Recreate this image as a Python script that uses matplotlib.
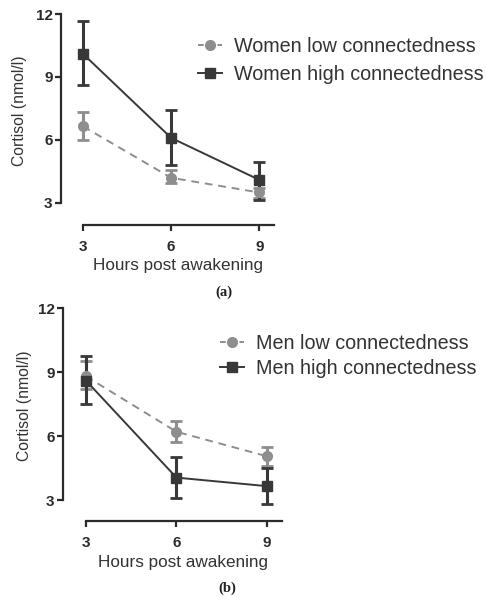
import matplotlib
matplotlib.use('Agg')
import matplotlib.pyplot as plt
from matplotlib.lines import Line2D
import numpy as np

plt.rcParams['font.family'] = ['Liberation Sans', 'DejaVu Sans']

hours = [3, 6, 9]
y_ticks = [3, 6, 9, 12]

women_low = [6.65, 4.2, 3.5]
women_low_hi = [7.35, 4.55, 3.7]
women_low_lo = [6.0, 3.95, 3.25]
women_high = [10.1, 6.1, 4.1]
women_high_hi = [11.65, 7.45, 4.95]
women_high_lo = [8.6, 4.8, 3.15]

men_low = [8.8, 6.2, 5.05]
men_low_hi = [9.5, 6.7, 5.5]
men_low_lo = [8.2, 5.7, 4.6]
men_high = [8.6, 4.05, 3.65]
men_high_hi = [9.75, 5.0, 4.5]
men_high_lo = [7.5, 3.1, 2.8]

LOW_COLOR = '#8e8e8e'
HIGH_COLOR = '#383838'
AXIS_COLOR = '#2b2b2b'
DASH = (4, 3)

W, H = 486, 597


def px_rect(left, top, right, bottom):
    return [left / W, (H - bottom) / H, (right - left) / W, (bottom - top) / H]


def draw_series(ax, mean, hi, lo, color, marker, dashed):
    mean = np.asarray(mean)
    yerr = [mean - np.asarray(lo), np.asarray(hi) - mean]
    _, _, bars = ax.errorbar(hours, mean, yerr=yerr, color=color, marker=marker,
                             ls='--' if dashed else '-', dashes=DASH if dashed else (None, None),
                             lw=1.4, ms=7, capsize=4, capthick=2, elinewidth=2.2, clip_on=False)
    for b in bars:
        b.set_clip_on(False)


def legend_handles(labels):
    low = Line2D([], [], color=LOW_COLOR, marker='o', ms=7, lw=1.4, ls='--', dashes=(3, 2))
    high = Line2D([], [], color=HIGH_COLOR, marker='s', ms=7, lw=1.4)
    return [low, high], labels


def style_axes(ax, xlim, ylim, ylab_pos, xlab_pos):
    ax.set_xlim(*xlim)
    ax.set_ylim(*ylim)
    ax.set_xticks(hours)
    ax.set_yticks(y_ticks)
    for side in ('top', 'right'):
        ax.spines[side].set_visible(False)
    ax.spines['left'].set_bounds(3, 12)
    ax.spines['bottom'].set_bounds(3, 9.5)
    for side in ('left', 'bottom'):
        ax.spines[side].set_linewidth(1.6)
        ax.spines[side].set_color(AXIS_COLOR)
    ax.tick_params(direction='out', length=4, width=1.6, color=AXIS_COLOR,
                   labelsize=11, labelcolor=AXIS_COLOR)
    ax.tick_params(axis='x', pad=6.5)
    ax.tick_params(axis='y', pad=2)
    for t in ax.get_xticklabels() + ax.get_yticklabels():
        t.set_fontweight('bold')
    ax.set_ylabel('Cortisol (nmol/l)', fontsize=11.3, color='#333333')
    ax.set_xlabel('Hours post awakening', fontsize=12.3, color='#333333')
    ax.yaxis.set_label_coords(*ylab_pos)
    ax.xaxis.set_label_coords(*xlab_pos)
    ax.patch.set_alpha(0)


fig = plt.figure(figsize=(W / 100, H / 100), dpi=100)

# panel (a)
ax1 = fig.add_axes(px_rect(61, 14, 274, 225))
draw_series(ax1, women_low, women_low_hi, women_low_lo, LOW_COLOR, 'o', True)
draw_series(ax1, women_high, women_high_hi, women_high_lo, HIGH_COLOR, 's', False)
style_axes(ax1, (2.25, 9.5), (1.952, 12), (-0.16, 0.54), (0.547, -0.156))
h, l = legend_handles(['Women low connectedness', 'Women high connectedness'])
ax1.legend(h, l, loc='upper left', bbox_to_anchor=(198 / W, 1 - 37 / H), bbox_transform=fig.transFigure,
           frameon=False, fontsize=14.2, handlelength=1.2, handletextpad=0.65, labelspacing=0.45,
           borderaxespad=0, borderpad=0, labelcolor='#333333')
fig.text(224 / W, 1 - 292 / H, '(a)', ha='center', va='center', fontsize=10.5,
         family='Liberation Serif', fontweight='bold', color='#222222')

# panel (b)
ax2 = fig.add_axes(px_rect(63, 308, 282, 521))
draw_series(ax2, men_low, men_low_hi, men_low_lo, LOW_COLOR, 'o', True)
draw_series(ax2, men_high, men_high_hi, men_high_lo, HIGH_COLOR, 's', False)
style_axes(ax2, (2.24, 9.5), (2.016, 12), (-0.14, 0.54), (0.546, -0.16))
h, l = legend_handles(['Men low connectedness', 'Men high connectedness'])
ax2.legend(h, l, loc='upper left', bbox_to_anchor=(220 / W, 1 - 334 / H), bbox_transform=fig.transFigure,
           frameon=False, fontsize=14.2, handlelength=1.2, handletextpad=0.65, labelspacing=0.3,
           borderaxespad=0, borderpad=0, labelcolor='#333333')
fig.text(227 / W, 1 - 588 / H, '(b)', ha='center', va='center', fontsize=10.5,
         family='Liberation Serif', fontweight='bold', color='#222222')

fig.savefig('out.png', dpi=100, facecolor='white')
